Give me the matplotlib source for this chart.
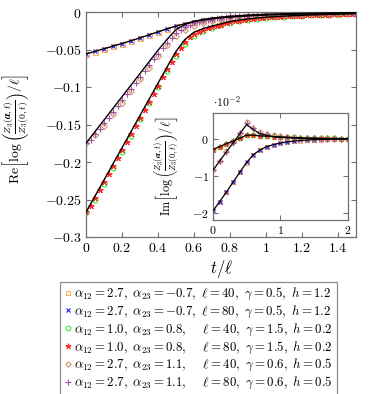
import matplotlib
matplotlib.use('Agg')
import matplotlib.pyplot as plt
from matplotlib.ticker import FixedLocator, FuncFormatter
from matplotlib.lines import Line2D

plt.rcParams['mathtext.fontset'] = 'cm'
plt.rcParams['font.family'] = ['DejaVu Serif']

# ---------------- main panel data (Re part) ----------------
t_40 = [0.00, 0.05, 0.10, 0.15, 0.20, 0.25, 0.30, 0.35, 0.40, 0.45, 0.50, 0.55, 0.60,
        0.65, 0.70, 0.75, 0.80, 0.85, 0.90, 0.95, 1.00, 1.05, 1.10, 1.15, 1.20, 1.25,
        1.30, 1.35, 1.40, 1.45, 1.50]
t_80 = [0.000, 0.025, 0.050, 0.075, 0.100, 0.125, 0.150, 0.175, 0.200, 0.225, 0.250,
        0.275, 0.300, 0.325, 0.350, 0.375, 0.400, 0.425, 0.450, 0.475, 0.500, 0.525,
        0.550, 0.575, 0.600, 0.625, 0.650, 0.675, 0.700, 0.725, 0.750, 0.775, 0.800,
        0.825, 0.850, 0.875, 0.900, 0.925, 0.950, 0.975, 1.000, 1.025, 1.050, 1.075,
        1.100, 1.125, 1.150, 1.175, 1.200, 1.225, 1.250, 1.275, 1.300, 1.325, 1.350,
        1.375, 1.400, 1.425, 1.450, 1.475, 1.500]

# group A: alpha12=2.7, alpha23=-0.7
re_A_exact = [-0.0560, -0.0525, -0.0490, -0.0455, -0.0420, -0.0383, -0.0345, -0.0305, -0.0265,
              -0.0225, -0.0188, -0.0155, -0.0128, -0.0107, -0.0090, -0.0077, -0.0067, -0.0059,
              -0.0052, -0.0046, -0.0041, -0.0037, -0.0033, -0.0030, -0.0027, -0.0025, -0.0023,
              -0.0021, -0.0019, -0.0018, -0.0017]
re_A_40 = [-0.0562, -0.0527, -0.0492, -0.0457, -0.0422, -0.0385, -0.0347, -0.0307, -0.0267,
           -0.0228, -0.0191, -0.0158, -0.0131, -0.0110, -0.0093, -0.0079, -0.0069, -0.0061,
           -0.0054, -0.0048, -0.0043, -0.0038, -0.0034, -0.0031, -0.0028, -0.0026, -0.0024,
           -0.0022, -0.0020, -0.0019, -0.0018]
re_A_80 = [-0.0561, -0.0526, -0.0491, -0.0456, -0.0421, -0.0384, -0.0346, -0.0306, -0.0266,
           -0.0226, -0.0189, -0.0156, -0.0129, -0.0108, -0.0091, -0.0078, -0.0068, -0.0060,
           -0.0053, -0.0047, -0.0042, -0.0037, -0.0033, -0.0030, -0.0027, -0.0025, -0.0023,
           -0.0021, -0.0019, -0.0018, -0.0017]

# group B: alpha12=2.7, alpha23=1.1
re_B_exact = [-0.1750, -0.1595, -0.1440, -0.1285, -0.1130, -0.0975, -0.0820, -0.0665, -0.0510,
              -0.0365, -0.0235, -0.0165, -0.0125, -0.0100, -0.0083, -0.0069, -0.0058, -0.0049,
              -0.0042, -0.0036, -0.0031, -0.0027, -0.0024, -0.0021, -0.0019, -0.0017, -0.0015,
              -0.0013, -0.0012, -0.0011, -0.0010]
re_B_40 = [-0.1750, -0.1645, -0.1515, -0.1362, -0.1208, -0.1053, -0.0898, -0.0743, -0.0590,
           -0.0445, -0.0320, -0.0240, -0.0185, -0.0150, -0.0122, -0.0100, -0.0083, -0.0069,
           -0.0058, -0.0049, -0.0042, -0.0036, -0.0031, -0.0027, -0.0024, -0.0021, -0.0019,
           -0.0017, -0.0015, -0.0014, -0.0013]
re_B_80 = [-0.1750, -0.1700, -0.1630, -0.1560, -0.1485, -0.1408, -0.1330, -0.1253, -0.1175,
           -0.1098, -0.1020, -0.0943, -0.0865, -0.0788, -0.0710, -0.0633, -0.0555, -0.0482,
           -0.0410, -0.0345, -0.0285, -0.0238, -0.0200, -0.0172, -0.0150, -0.0132, -0.0117,
           -0.0105, -0.0095, -0.0086, -0.0078, -0.0071, -0.0065, -0.0059, -0.0054, -0.0050,
           -0.0046, -0.0042, -0.0039, -0.0036, -0.0033, -0.0031, -0.0029, -0.0027, -0.0025,
           -0.0023, -0.0022, -0.0021, -0.0020, -0.0019, -0.0018, -0.0017, -0.0016, -0.0015,
           -0.0014, -0.0014, -0.0013, -0.0012, -0.0012, -0.0011, -0.0011]

# group C: alpha12=1.0, alpha23=0.8
re_C_exact = [-0.2670, -0.2455, -0.2240, -0.2025, -0.1810, -0.1595, -0.1380, -0.1165, -0.0950,
              -0.0735, -0.0525, -0.0365, -0.0270, -0.0222, -0.0187, -0.0158, -0.0128, -0.0108,
              -0.0093, -0.0080, -0.0070, -0.0062, -0.0055, -0.0049, -0.0044, -0.0039, -0.0035,
              -0.0031, -0.0028, -0.0025, -0.0022]
re_C_40 = [-0.2670, -0.2510, -0.2292, -0.2077, -0.1862, -0.1647, -0.1432, -0.1217, -0.1002,
           -0.0787, -0.0590, -0.0425, -0.0315, -0.0252, -0.0210, -0.0176, -0.0143, -0.0120,
           -0.0103, -0.0089, -0.0078, -0.0068, -0.0060, -0.0053, -0.0047, -0.0042, -0.0038,
           -0.0034, -0.0030, -0.0027, -0.0024]
re_C_80 = [-0.2670, -0.2590, -0.2485, -0.2378, -0.2270, -0.2163, -0.2055, -0.1948, -0.1840,
           -0.1733, -0.1625, -0.1518, -0.1410, -0.1303, -0.1195, -0.1088, -0.0980, -0.0873,
           -0.0765, -0.0660, -0.0562, -0.0478, -0.0400, -0.0338, -0.0292, -0.0262, -0.0237,
           -0.0217, -0.0199, -0.0183, -0.0167, -0.0152, -0.0137, -0.0125, -0.0114, -0.0105,
           -0.0097, -0.0090, -0.0084, -0.0078, -0.0073, -0.0069, -0.0065, -0.0061, -0.0058,
           -0.0055, -0.0052, -0.0049, -0.0047, -0.0044, -0.0042, -0.0040, -0.0038, -0.0036,
           -0.0034, -0.0032, -0.0031, -0.0029, -0.0027, -0.0026, -0.0024]

# ---------------- inset data (Im part, units of 1e-2) ----------------
t_in = [0.0, 0.1, 0.2, 0.3, 0.4, 0.5, 0.6, 0.7, 0.8, 0.9, 1.0, 1.1, 1.2, 1.3, 1.4,
        1.5, 1.6, 1.7, 1.8, 1.9, 2.0]
im_A_exact = [-1.95, -1.70, -1.44, -1.17, -0.90, -0.64, -0.43, -0.30, -0.21, -0.155, -0.115,
              -0.085, -0.062, -0.045, -0.033, -0.024, -0.017, -0.012, -0.008, -0.005, -0.003]
im_A_40 = [-1.96, -1.71, -1.45, -1.18, -0.91, -0.65, -0.44, -0.31, -0.22, -0.16, -0.12,
           -0.09, -0.065, -0.048, -0.035, -0.026, -0.019, -0.013, -0.009, -0.006, -0.004]
im_A_80 = [-1.95, -1.70, -1.44, -1.17, -0.90, -0.64, -0.43, -0.30, -0.21, -0.155, -0.115,
           -0.085, -0.062, -0.045, -0.033, -0.024, -0.017, -0.012, -0.008, -0.005, -0.003]
im_B_exact = [-0.85, -0.60, -0.35, -0.11, 0.14, 0.39, 0.25, 0.14, 0.09, 0.06, 0.04,
              0.03, 0.02, 0.015, 0.01, 0.008, 0.006, 0.004, 0.003, 0.002, 0.001]
im_B_40 = [-0.85, -0.59, -0.34, -0.09, 0.17, 0.46, 0.30, 0.19, 0.14, 0.10, 0.07,
           0.05, 0.04, 0.03, 0.02, 0.015, 0.01, 0.008, 0.006, 0.004, 0.003]
im_B_80 = [-0.85, -0.60, -0.35, -0.10, 0.16, 0.43, 0.28, 0.17, 0.12, 0.08, 0.06,
           0.04, 0.03, 0.02, 0.015, 0.01, 0.008, 0.006, 0.004, 0.003, 0.002]
im_C_exact = [-0.29, -0.21, -0.13, -0.06, 0.02, 0.10, 0.10, 0.08, 0.07, 0.06, 0.05,
              0.045, 0.035, 0.03, 0.02, 0.018, 0.015, 0.012, 0.01, 0.008, 0.005]
im_C_40 = [-0.29, -0.22, -0.14, -0.06, 0.02, 0.11, 0.11, 0.09, 0.075, 0.065, 0.055,
           0.045, 0.04, 0.03, 0.025, 0.02, 0.017, 0.013, 0.01, 0.008, 0.006]
im_C_80 = [-0.29, -0.21, -0.13, -0.06, 0.02, 0.11, 0.10, 0.085, 0.07, 0.06, 0.05,
           0.045, 0.035, 0.03, 0.022, 0.018, 0.015, 0.012, 0.01, 0.008, 0.005]

legend_labels = [
    r'$\alpha_{12}=2.7,\ \alpha_{23}=-0.7,\ \ell=40,\ \gamma=0.5,\ h=1.2$',
    r'$\alpha_{12}=2.7,\ \alpha_{23}=-0.7,\ \ell=80,\ \gamma=0.5,\ h=1.2$',
    r'$\alpha_{12}=1.0,\ \alpha_{23}=0.8,\ \ \ \ \ell=40,\ \gamma=1.5,\ h=0.2$',
    r'$\alpha_{12}=1.0,\ \alpha_{23}=0.8,\ \ \ \ \ell=80,\ \gamma=1.5,\ h=0.2$',
    r'$\alpha_{12}=2.7,\ \alpha_{23}=1.1,\ \ \ \ \ell=40,\ \gamma=0.6,\ h=0.5$',
    r'$\alpha_{12}=2.7,\ \alpha_{23}=1.1,\ \ \ \ \ell=80,\ \gamma=0.6,\ h=0.5$',
]

# ---------------- styles ----------------
c_sq = '#ffad5c'
c_x = '#2020ff'
c_o = '#33ee33'
c_st = '#ff2a2a'
c_d = '#cc9966'
c_p = '#a850a8'
spine_c = '#707070'
star = (5, 2, 0)

fig = plt.figure(figsize=(3.74, 3.94), dpi=100)
ax = fig.add_axes([86/374, 1-237/394, 270/374, 225/394])

def fmt(v, _):
    s = '%g' % round(v, 4)
    return '$%s$' % s

def style_axes(a, fs):
    for sp in a.spines.values():
        sp.set_color(spine_c)
        sp.set_linewidth(0.9)
    a.tick_params(direction='in', top=True, right=True, length=3.5, width=0.8,
                  color=spine_c, labelsize=fs, pad=3)
    a.xaxis.set_major_formatter(FuncFormatter(fmt))
    a.yaxis.set_major_formatter(FuncFormatter(fmt))

ms = 3.6
mk = dict(linestyle='none', markeredgewidth=0.8)
ax.plot(t_40, re_A_40, marker='s', mfc='none', mec=c_sq, ms=ms, **mk)
ax.plot(t_40, re_A_80, marker='x', color=c_x, ms=3.2, **mk)
ax.plot(t_40, re_C_40, marker='o', mfc='none', mec=c_o, ms=ms, **mk)
ax.plot(t_80, re_C_80, marker=star, color=c_st, ms=4.2, **mk)
ax.plot(t_40, re_B_40, marker='D', mfc='none', mec=c_d, ms=3.0, **mk)
ax.plot(t_80, re_B_80, marker='+', color=c_p, ms=4.2, **mk)
for ys in (re_A_exact, re_B_exact, re_C_exact):
    ax.plot(t_40, ys, color='black', lw=1.0, zorder=5)

ax.set_xlim(0, 1.5)
ax.set_ylim(-0.3, 0.0)
ax.xaxis.set_major_locator(FixedLocator([0, 0.2, 0.4, 0.6, 0.8, 1.0, 1.2, 1.4]))
ax.yaxis.set_major_locator(FixedLocator([-0.3, -0.25, -0.2, -0.15, -0.1, -0.05, 0]))
style_axes(ax, 10)
ax.set_xlabel(r'$t/\ell$', fontsize=12, labelpad=2)
ax.set_ylabel(r'$\mathrm{Re}\left[\log\left(\frac{Z_3(\boldsymbol{\alpha},t)}{Z_3(\mathbf{0},t)}\right)/\ell\right]$',
              fontsize=10)
ax.yaxis.set_label_coords(-0.205, 0.48)

# ---------------- inset ----------------
axi = fig.add_axes([213/374, 1-220/394, 134.5/374, 107/394])
axi.set_facecolor('white')
axi.plot(t_in, im_A_40, marker='s', mfc='none', mec=c_sq, ms=3.4, **mk)
axi.plot(t_in, im_A_80, marker='x', color=c_x, ms=3.0, **mk)
axi.plot(t_in, im_C_40, marker='o', mfc='none', mec=c_o, ms=3.4, **mk)
axi.plot(t_in, im_C_80, marker=star, color=c_st, ms=4.0, **mk)
axi.plot(t_in, im_B_40, marker='D', mfc='none', mec=c_d, ms=2.8, **mk)
axi.plot(t_in, im_B_80, marker='+', color=c_p, ms=4.0, **mk)
for ys in (im_A_exact, im_B_exact, im_C_exact):
    axi.plot(t_in, ys, color='black', lw=0.9, zorder=5)
axi.set_xlim(0, 2)
axi.set_ylim(-2.2, 0.7)
axi.xaxis.set_major_locator(FixedLocator([0, 1, 2]))
axi.yaxis.set_major_locator(FixedLocator([-2, -1, 0]))
style_axes(axi, 8.5)
axi.text(0.0, 1.03, r'$\cdot 10^{-2}$', transform=axi.transAxes, fontsize=8.5,
         ha='left', va='bottom')
axi.set_ylabel(r'$\mathrm{Im}\left[\log\left(\frac{Z_3(\boldsymbol{\alpha},t)}{Z_3(\mathbf{0},t)}\right)/\ell\right]$',
               fontsize=8.8)
axi.yaxis.set_label_coords(-0.235, 0.5)

# ---------------- legend ----------------
handles = [
    Line2D([], [], marker='s', mfc='none', mec=c_sq, ms=3.4, **mk),
    Line2D([], [], marker='x', color=c_x, ms=3.0, **mk),
    Line2D([], [], marker='o', mfc='none', mec=c_o, ms=3.4, **mk),
    Line2D([], [], marker=star, color=c_st, ms=4.0, **mk),
    Line2D([], [], marker='D', mfc='none', mec=c_d, ms=2.8, **mk),
    Line2D([], [], marker='+', color=c_p, ms=4.0, **mk),
]
leg = fig.legend(handles, legend_labels, loc='upper center',
                 bbox_to_anchor=((42 + 355) / 2 / 374, 1-282/394), bbox_transform=fig.transFigure,
                 frameon=True, fancybox=False, fontsize=9.3, borderpad=0.32,
                 labelspacing=0.12, handlelength=0.5, handletextpad=0.25,
                 borderaxespad=0)
leg.get_frame().set_edgecolor(spine_c)
leg.get_frame().set_linewidth(0.9)

fig.savefig('out.png', dpi=100)
